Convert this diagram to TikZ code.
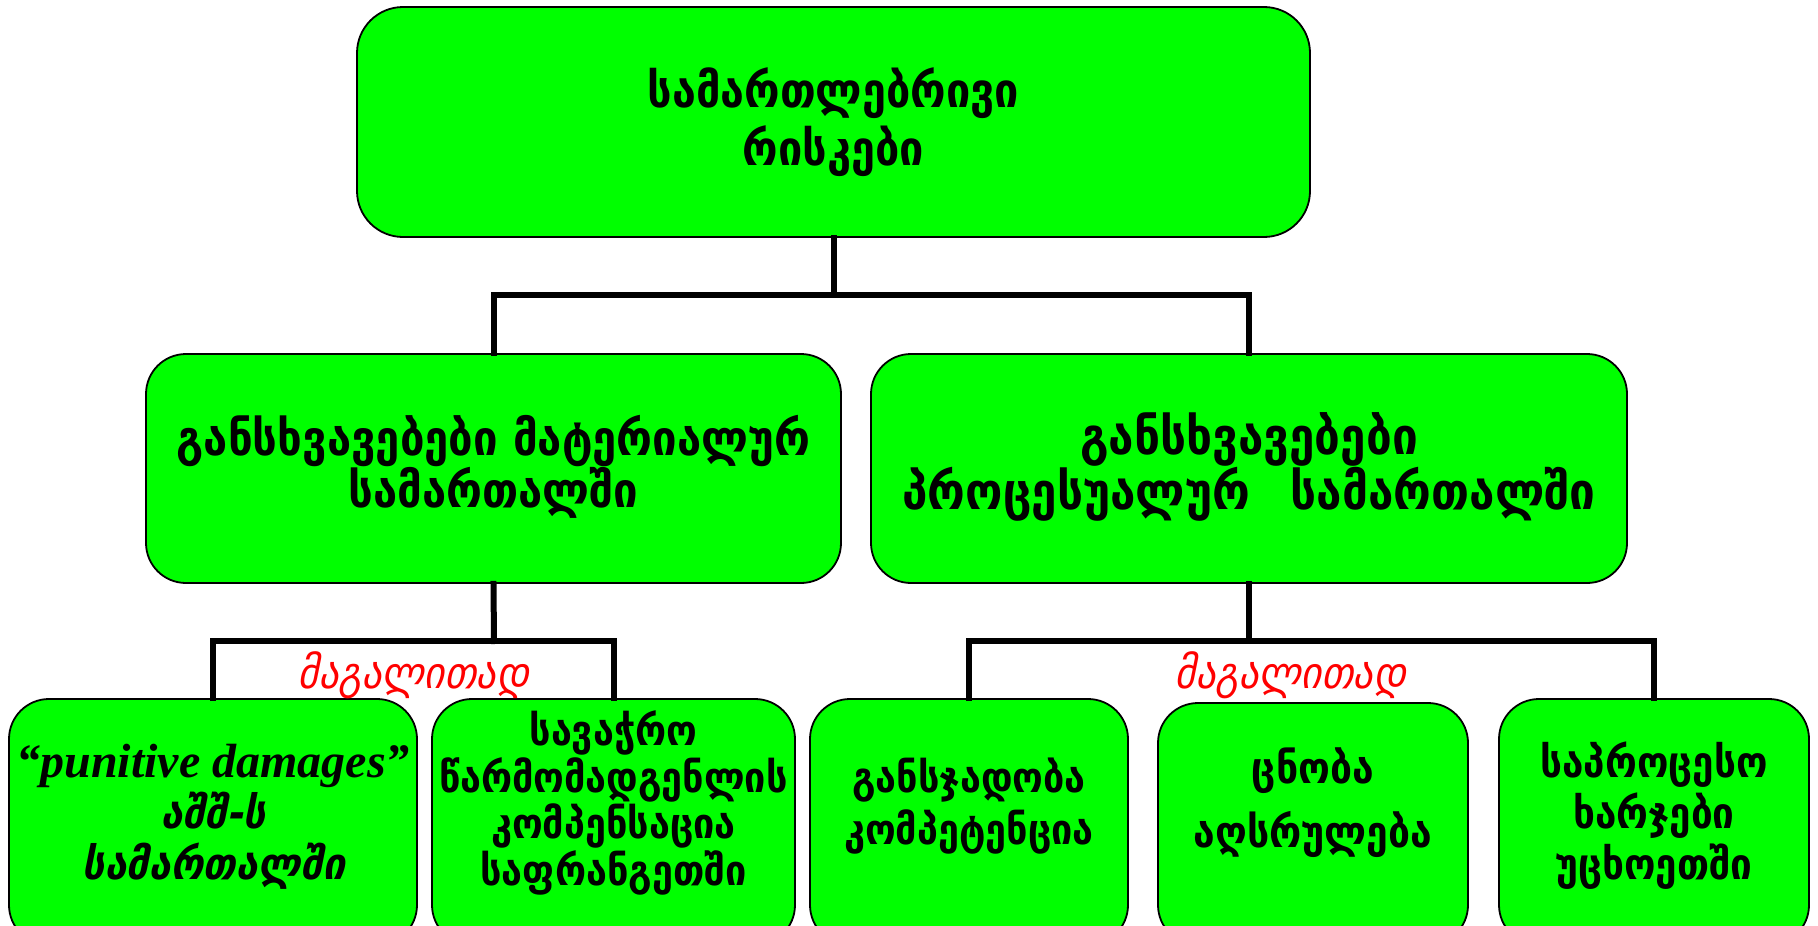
\documentclass[tikz,border=0pt]{standalone}
\usepackage{fontspec}
\newfontfamily\geo{DejaVu Sans Condensed Bold}
\newfontfamily\geoitb[FakeSlant=0.2]{DejaVu Sans Condensed Bold}
\newfontfamily\geoit[FakeSlant=0.2]{DejaVu Sans Condensed}
\newfontfamily\tnr{Liberation Serif}
\definecolor{boxgreen}{RGB}{0,255,0}
\definecolor{exred}{RGB}{255,0,0}
\begin{document}
\begin{tikzpicture}[x=1pt,y=-1pt,
  box/.style={draw=black,line width=1.8pt,fill=boxgreen,rounded corners=#1,inner sep=0pt},
  box/.default=40pt,
  txt/.style={align=center,inner sep=0pt,text=black},
  conn/.style={draw=black,line width=6pt,line cap=rect},
  example/.style={inner sep=0pt,text=exred,font=\geoit\fontsize{44}{50}\selectfont}]
\useasboundingbox (0,0) rectangle (1818,926);
\clip (0,0) rectangle (1818,926);
% boxes
\node[box=46pt,minimum width=953pt,minimum height=230pt] (top) at (833.5,122) {};
\node[box,minimum width=695pt,minimum height=229pt] (ml) at (493.5,468.5) {};
\node[box,minimum width=756pt,minimum height=229pt] (mr) at (1249,468.5) {};
\node[box,minimum width=408pt,minimum height=246pt] (b1) at (213,822) {};
\node[box,minimum width=363pt,minimum height=246pt] (b2) at (613.5,822) {};
\node[box,minimum width=318pt,minimum height=246pt] (b3) at (969,822) {};
\node[box,minimum width=310pt,minimum height=242pt] (b4) at (1313,824) {};
\node[box,minimum width=310pt,minimum height=246pt] (b5) at (1654,822) {};
% junctions
\coordinate (j1) at (833.5,295);
\coordinate (j2) at (494,641);
\coordinate (j3) at (1249,641);
% connectors
\draw[conn] (top.south) -- (j1);
\draw[conn] (ml.north) |- (j1) -| (mr.north);
\draw[conn] (ml.south) -- (j2);
\draw[conn] (b1.north) |- (j2) -| (b2.north);
\draw[conn] (mr.south) -- (j3);
\draw[conn] (b3.north) |- (j3) -| (b5.north);
% texts
\node[txt,font=\geo\fontsize{48}{58}\selectfont] (toptext) at (833.5,122) {სამართლებრივი\\რისკები};
\node[txt,font=\geo\fontsize{48.5}{52}\selectfont] (mltext) at (493.5,467) {განსხვავებები მატერიალურ\\სამართალში};
\node[txt,font=\geo\fontsize{51}{52}\selectfont] (mrtext) at (1249,467) {განსხვავებები\\პროცესუალურ\hspace{25pt} სამართალში};
\node[txt,font=\geoitb\fontsize{44}{51}\selectfont] (b1text) at (213,817) {{\tnr\bfseries\itshape\fontsize{48}{51}\selectfont “punitive damages”}\\აშშ-ს\\სამართალში};
\node[txt,font=\geo\fontsize{42}{46.5}\selectfont] (b2text) at (613.5,803) {სავაჭრო\\წარმომადგენლის\\კომპენსაცია\\საფრანგეთში};
\node[txt,font=\geo\fontsize{42}{52}\selectfont] (b3text) at (969,806) {განსჯადობა\\კომპეტენცია};
\node[txt,font=\geo\fontsize{43.5}{64}\selectfont] (b4text) at (1313,803) {ცნობა\\აღსრულება};
\node[txt,font=\geo\fontsize{43}{51}\selectfont] (b5text) at (1654,816) {საპროცესო\\ხარჯები\\უცხოეთში};
\node[example] (ex1) at (413,675) {მაგალითად};
\node[example] (ex2) at (1290,675) {მაგალითად};
\end{tikzpicture}
\end{document}
